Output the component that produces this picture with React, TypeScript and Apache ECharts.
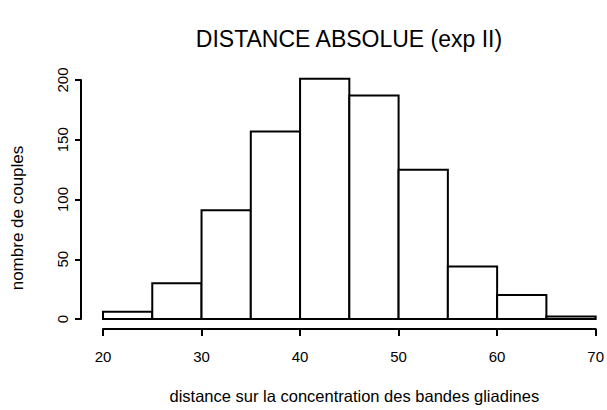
import React, { useEffect, useRef } from "react";
import * as echarts from "echarts";

const binStarts = [20, 25, 30, 35, 40, 45, 50, 55, 60, 65];
const binWidth = 5;
const counts = [6, 30, 91, 157, 201, 187, 125, 44, 20, 2];
const xTicks = [20, 30, 40, 50, 60, 70];
const yTicks = [0, 50, 100, 150, 200];

const FONT = "'Liberation Sans', Arial, Helvetica, sans-serif";

export default function App() {
  const ref = useRef<HTMLDivElement>(null);
  useEffect(() => {
    if (!ref.current) return;
    const chart = echarts.init(ref.current, null, { renderer: "svg" });
    const data = binStarts.map((s, i) => [s, s + binWidth, counts[i]]);
    chart.setOption({
      animation: false,
      backgroundColor: "#fff",
      title: {
        text: "DISTANCE ABSOLUE (exp II)",
        left: 344,
        top: 22,
        textAlign: "center",
        textStyle: { fontFamily: FONT, fontSize: 23, fontWeight: "normal", color: "#000" },
      },
      graphic: [
        {
          type: "text",
          x: 17,
          y: 218,
          rotation: Math.PI / 2,
          style: {
            text: "nombre de couples",
            fontFamily: FONT,
            fontSize: 17,
            fill: "#000",
            align: "center",
            verticalAlign: "middle",
          },
        },
      ],
      grid: { left: 103, right: 10, top: 80, bottom: 91 },
      xAxis: {
        type: "value",
        min: xTicks[0],
        max: xTicks[xTicks.length - 1],
        interval: 10,
        offset: 10,
        name: "distance sur la concentration des bandes gliadines",
        nameLocation: "middle",
        nameGap: 58,
        nameTextStyle: { fontFamily: FONT, fontSize: 16.5, color: "#000", padding: [0, 0, 0, 10] },
        axisLine: { show: true, onZero: false, lineStyle: { color: "#000", width: 2 } },
        axisTick: { show: true, length: 7, lineStyle: { color: "#000", width: 2 } },
        axisLabel: { fontFamily: FONT, fontSize: 15, color: "#000", margin: 20 },
        splitLine: { show: false },
      },
      yAxis: {
        type: "value",
        min: yTicks[0],
        max: yTicks[yTicks.length - 1],
        interval: 50,
        offset: 22,
        axisLine: { show: true, lineStyle: { color: "#000", width: 2 } },
        axisTick: { show: true, length: 6, lineStyle: { color: "#000", width: 2 } },
        axisLabel: { fontFamily: FONT, fontSize: 15, color: "#000", rotate: 90, margin: 11 },
        splitLine: { show: false },
      },
      series: [
        {
          type: "custom",
          clip: false,
          data,
          renderItem: (params: any, api: any) => {
            const x0 = api.value(0);
            const x1 = api.value(1);
            const v = api.value(2);
            const p0 = api.coord([x0, 0]);
            const p1 = api.coord([x1, v]);
            return {
              type: "rect",
              shape: { x: p0[0], y: p1[1], width: p1[0] - p0[0], height: p0[1] - p1[1] },
              style: { fill: "#fff", stroke: "#000", lineWidth: 2 },
            };
          },
        },
      ],
    });
    return () => chart.dispose();
  }, []);
  return <div ref={ref} style={{ width: 607, height: 410, position: "absolute", left: 0, top: 0 }} />;
}
